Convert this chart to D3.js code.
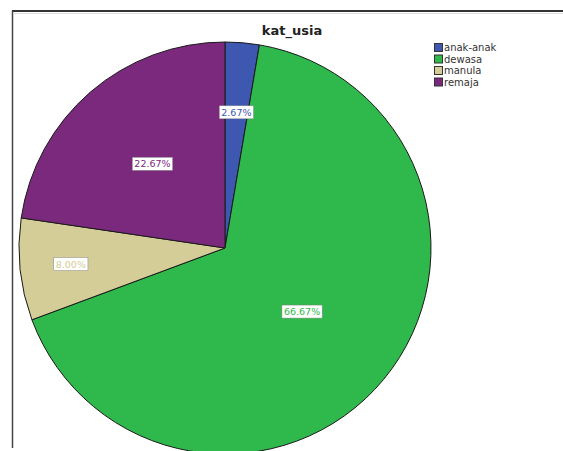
<!DOCTYPE html>
<html>
<head>
<meta charset="utf-8">
<script src="https://cdn.jsdelivr.net/npm/d3@7/dist/d3.min.js"></script>
<style>
  html, body { margin: 0; padding: 0; background: #fff; }
  svg { display: block; }
</style>
</head>
<body>
<svg id="chart" width="563" height="451"></svg>
<script>
// Age category counts (percent of respondents)
const categories = ["anak-anak", "dewasa", "manula", "remaja"];
const percents = [2.67, 66.67, 8.00, 22.67];
const sliceColors = ["#3e57b0", "#2fb84b", "#d5cd97", "#7b297d"];
const chartTitle = "kat_usia";

const W = 563, H = 451;
const svg = d3.select("#chart");

// outer frame
svg.append("line").attr("x1", 12).attr("x2", W).attr("y1", 11).attr("y2", 11)
  .attr("stroke", "#333").attr("stroke-width", 2);
svg.append("line").attr("x1", 12.5).attr("x2", 12.5).attr("y1", 11).attr("y2", 448)
  .attr("stroke", "#444").attr("stroke-width", 1.5);
svg.append("line").attr("x1", 13).attr("x2", W).attr("y1", 13.5).attr("y2", 13.5)
  .attr("stroke", "#ddd").attr("stroke-width", 1);

// title
svg.append("text")
  .attr("x", 292).attr("y", 35)
  .attr("text-anchor", "middle")
  .attr("font-family", "'DejaVu Sans', sans-serif")
  .attr("font-weight", "bold")
  .attr("font-size", 13)
  .attr("fill", "#222")
  .text(chartTitle);

const cx = 225, cy = 248, R = 206;
const data = categories.map((c, i) => ({ cat: c, value: percents[i], color: sliceColors[i] }));
const pie = d3.pie().sort(null).value(d => d.value);
const arcs = pie(data);
const arc = d3.arc().innerRadius(0).outerRadius(R);

const g = svg.append("g").attr("transform", `translate(${cx},${cy})`);
g.selectAll("path.slice")
  .data(arcs)
  .join("path")
  .attr("class", "slice")
  .attr("d", arc)
  .attr("fill", d => d.data.color)
  .attr("stroke", "#1a1a1a")
  .attr("stroke-width", 1);

// value labels: placement radius per slice
const labelRadius = { "anak-anak": 136, "dewasa": 100, "manula": 155, "remaja": 111 };
const fmt = v => v.toFixed(2) + "%";
const lab = g.selectAll("g.lab")
  .data(arcs)
  .join("g")
  .attr("class", "lab")
  .attr("transform", d => {
    const a = (d.startAngle + d.endAngle) / 2;
    const r = labelRadius[d.data.cat];
    return `translate(${r * Math.sin(a)},${-r * Math.cos(a)})`;
  });
lab.each(function(d) {
  const s = d3.select(this);
  const t = s.append("text")
    .attr("text-anchor", "middle")
    .attr("dy", "0.35em")
    .attr("font-family", "'DejaVu Sans', sans-serif")
    .attr("font-size", 9.5)
    .attr("fill", d.data.color)
    .text(fmt(d.data.value));
  const bb = t.node().getBBox();
  s.insert("rect", "text")
    .attr("x", bb.x - 2).attr("y", bb.y - 1)
    .attr("width", bb.width + 4).attr("height", bb.height + 2)
    .attr("fill", "#fff")
    .attr("stroke", "#888").attr("stroke-width", 0.5);
});

// legend
const legend = svg.append("g").attr("transform", "translate(434,43)");
const rowH = 11.5;
const items = legend.selectAll("g").data(data).join("g")
  .attr("transform", (d, i) => `translate(0,${i * rowH})`);
items.append("rect")
  .attr("x", 0.5).attr("y", 0.5).attr("width", 8).attr("height", 8)
  .attr("fill", d => d.color)
  .attr("stroke", "#333").attr("stroke-width", 1);
items.append("text")
  .attr("x", 10).attr("y", 8)
  .attr("font-family", "'DejaVu Sans', sans-serif")
  .attr("font-size", 10)
  .attr("fill", "#333")
  .text(d => d.cat);
</script>
</body>
</html>
